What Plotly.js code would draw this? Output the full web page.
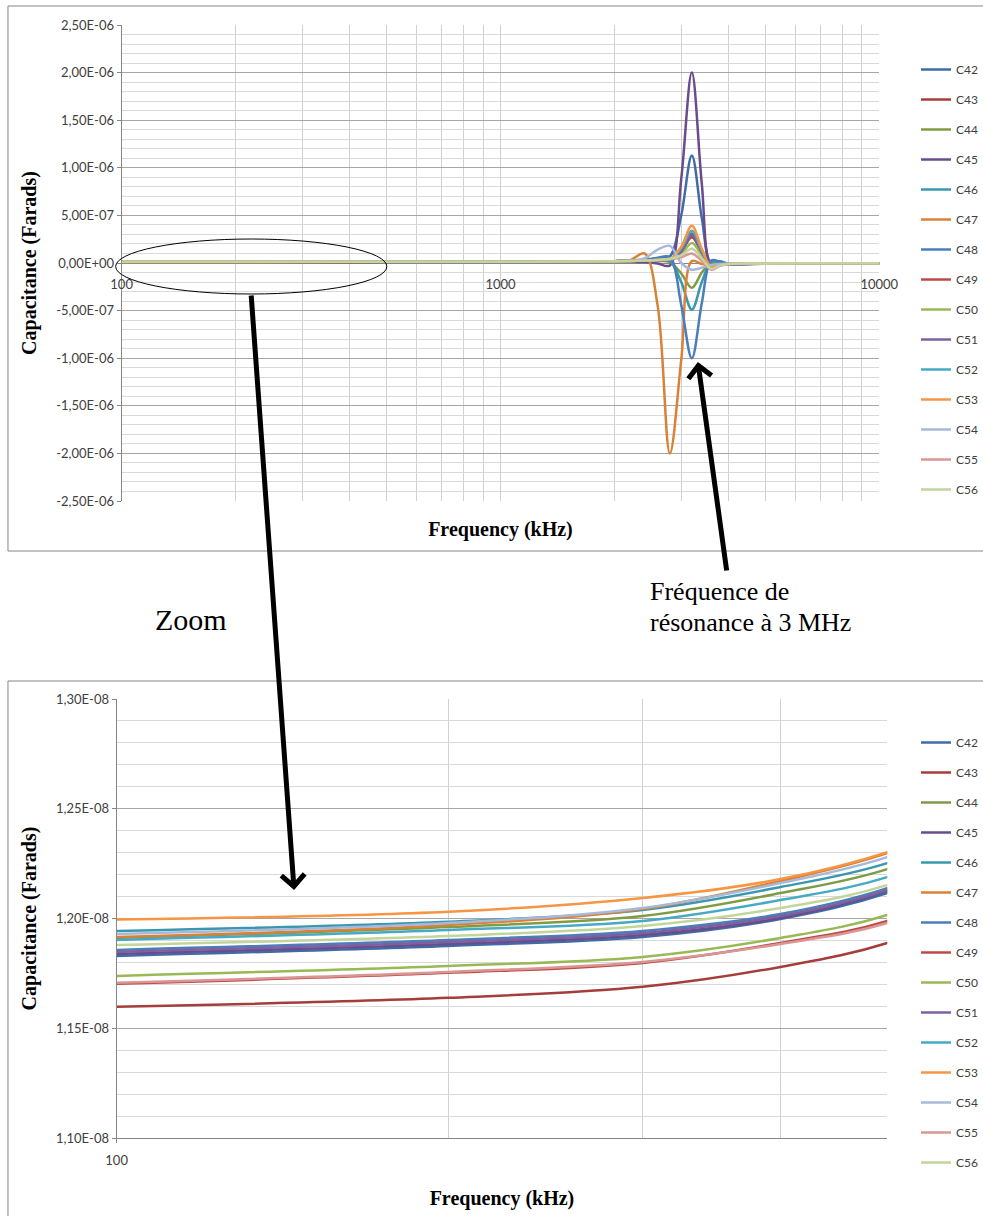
<!DOCTYPE html>
<html>
<head>
<meta charset="utf-8">
<script src="https://cdn.plot.ly/plotly-3.0.1.min.js"></script>
<style>html,body{margin:0;padding:0;background:#fff;}#chart{width:983px;height:1216px;}</style>
</head>
<body>
<div id="chart"></div>
<script>
// Frequencies (kHz)
const freq = [100, 200, 300, 400, 500, 700, 1000, 1500, 2000, 2200, 2400, 2600, 2800, 3000, 3200, 3400, 3600, 3800, 4000, 5000, 7000, 10000];

// Series names
const seriesNames = ['C42','C43','C44','C45','C46','C47','C48','C49','C50','C51','C52','C53','C54','C55','C56'];

// Capacitance values (Farads)
const C42 = [1.18295e-8, 1.1875e-8, 1.19159e-8, 1.19977e-8, 1.21159e-8, 1.242e-8, 1.312e-8, 1.51e-8, 1.93e-8, 2.2e-8, 3.0e-8, 5.0e-8, 7.0e-8, 5.0e-7, 1.13e-6, 4.7e-7, -1.0e-8, 1.5e-8, -1.0e-8, -8e-9, -5e-9, -3e-9];
const C43 = [1.15977e-8, 1.16386e-8, 1.16886e-8, 1.17795e-8, 1.18886e-8, 1.219e-8, 1.289e-8, 1.49e-8, 1.91e-8, 2.2e-8, 2.6e-8, 3.2e-8, 4.0e-8, 1.2e-7, 2.7e-7, 1.1e-7, -3.0e-8, -1.5e-8, -1.0e-8, -6e-9, -3e-9, -2e-9];
const C44 = [1.19114e-8, 1.19614e-8, 1.20114e-8, 1.21159e-8, 1.2225e-8, 1.253e-8, 1.323e-8, 1.52e-8, 1.94e-8, 2.2e-8, 2.5e-8, 2.0e-8, 1.0e-8, -1.1e-7, -2.6e-7, -1.0e-7, 1.0e-8, 5e-9, -5e-9, -6e-9, -4e-9, -2e-9];
const C45 = [1.18386e-8, 1.18841e-8, 1.1925e-8, 1.20023e-8, 1.2125e-8, 1.243e-8, 1.313e-8, 1.51e-8, 1.93e-8, 1.5e-8, 1.0e-8, -5e-9, -2.5e-8, 8.8e-7, 2.0e-6, 8.3e-7, -3.0e-8, -1.0e-8, -1.0e-8, -8e-9, -5e-9, -3e-9];
const C46 = [1.19432e-8, 1.19855e-8, 1.20386e-8, 1.21432e-8, 1.22523e-8, 1.255e-8, 1.325e-8, 1.53e-8, 1.95e-8, 2.2e-8, 2.6e-8, 2.5e-8, 2.0e-8, -2.0e-7, -4.9e-7, -2.0e-7, 1.5e-8, 5e-9, -5e-9, -6e-9, -4e-9, -2e-9];
const C47 = [1.19159e-8, 1.19705e-8, 1.20432e-8, 1.21705e-8, 1.22977e-8, 1.26e-8, 1.33e-8, 1.53e-8, 1.95e-8, 3.0e-8, 1.0e-7, -4.5e-7, -2.0e-6, -1.02e-6, 2.0e-8, -1.0e-8, -2.0e-8, -1.0e-8, -8e-9, -6e-9, -4e-9, -2e-9];
const C48 = [1.18568e-8, 1.19023e-8, 1.19432e-8, 1.20205e-8, 1.21386e-8, 1.244e-8, 1.314e-8, 1.51e-8, 1.93e-8, 2.2e-8, 3.0e-8, 5.5e-8, 6.0e-8, -4.4e-7, -1.0e-6, -4.2e-7, 2.5e-8, 1.5e-8, -5e-9, -6e-9, -4e-9, -2e-9];
const C49 = [1.17023e-8, 1.17523e-8, 1.17977e-8, 1.18886e-8, 1.19886e-8, 1.229e-8, 1.299e-8, 1.50e-8, 1.92e-8, 2.2e-8, 2.6e-8, 3.2e-8, 4.0e-8, 1.3e-7, 3.1e-7, 1.2e-7, -4.0e-8, -1.5e-8, -1.0e-8, -6e-9, -3e-9, -2e-9];
const C50 = [1.17386e-8, 1.17841e-8, 1.1825e-8, 1.19114e-8, 1.20159e-8, 1.232e-8, 1.302e-8, 1.50e-8, 1.92e-8, 2.2e-8, 2.6e-8, 3.2e-8, 4.0e-8, 9.0e-8, 2.1e-7, 8.0e-8, -5.0e-8, -2.0e-8, -1.0e-8, -6e-9, -3e-9, -2e-9];
const C51 = [1.18477e-8, 1.18932e-8, 1.19341e-8, 1.20114e-8, 1.21295e-8, 1.243e-8, 1.313e-8, 1.51e-8, 1.93e-8, 2.2e-8, 2.6e-8, 3.2e-8, 4.0e-8, 1.2e-7, 2.9e-7, 1.1e-7, -4.0e-8, -1.5e-8, -1.0e-8, -6e-9, -3e-9, -2e-9];
const C52 = [1.19023e-8, 1.19477e-8, 1.19886e-8, 1.20841e-8, 1.21886e-8, 1.249e-8, 1.319e-8, 1.52e-8, 1.94e-8, 2.2e-8, 2.6e-8, 3.2e-8, 4.0e-8, 1.5e-7, 3.4e-7, 1.3e-7, -4.0e-8, -1.5e-8, -1.0e-8, -6e-9, -3e-9, -2e-9];
const C53 = [1.19955e-8, 1.20309e-8, 1.20932e-8, 1.21795e-8, 1.23022e-8, 1.26e-8, 1.33e-8, 1.53e-8, 1.95e-8, 2.2e-8, 2.6e-8, 3.2e-8, 4.0e-8, 1.7e-7, 3.9e-7, 1.5e-7, -4.0e-8, -2.0e-8, -1.0e-8, -6e-9, -3e-9, -2e-9];
const C54 = [1.19295e-8, 1.19795e-8, 1.20477e-8, 1.21614e-8, 1.22795e-8, 1.258e-8, 1.328e-8, 1.53e-8, 1.95e-8, 2.5e-8, 5.0e-8, 1.4e-7, 1.8e-7, 0.0, -7.0e-8, -5.0e-8, -2.0e-8, -1.0e-8, -8e-9, -6e-9, -3e-9, -2e-9];
const C55 = [1.17068e-8, 1.17568e-8, 1.18023e-8, 1.18841e-8, 1.19795e-8, 1.228e-8, 1.298e-8, 1.50e-8, 1.92e-8, 2.2e-8, 2.6e-8, 3.2e-8, 4.0e-8, 6.0e-8, 1.0e-7, 2.0e-8, -7.0e-8, -3.0e-8, -1.0e-8, -6e-9, -3e-9, -2e-9];
const C56 = [1.18795e-8, 1.19205e-8, 1.19659e-8, 1.20477e-8, 1.21523e-8, 1.245e-8, 1.315e-8, 1.52e-8, 1.94e-8, 2.2e-8, 2.6e-8, 3.2e-8, 4.5e-8, 8.0e-8, 1.5e-7, 5.0e-8, -6.0e-8, -2.5e-8, -1.0e-8, -6e-9, -3e-9, -2e-9];

const seriesValues = [C42, C43, C44, C45, C46, C47, C48, C49, C50, C51, C52, C53, C54, C55, C56];

// Tick labels
const topYTickVals = [-2.5e-6, -2e-6, -1.5e-6, -1e-6, -5e-7, 0, 5e-7, 1e-6, 1.5e-6, 2e-6, 2.5e-6];
const topYTickText = ['-2,50E-06','-2,00E-06','-1,50E-06','-1,00E-06','-5,00E-07','0,00E+00','5,00E-07','1,00E-06','1,50E-06','2,00E-06','2,50E-06'];
const botYTickVals = [1.10e-8, 1.15e-8, 1.20e-8, 1.25e-8, 1.30e-8];
const botYTickText = ['1,10E-08','1,15E-08','1,20E-08','1,25E-08','1,30E-08'];

// Styles
const seriesColors = ['#3E6CA8','#A53E3B','#7F9C45','#684C8B','#3A98AE','#DB8137','#4A7EBB','#BE4B48','#98B954','#7D60A0','#46AAC5','#F69544','#A7B9DA','#DA9694','#C2D59B'];

const W = 983, H = 1216;
const px = v => v / W;
const py = v => (H - v) / H;

const traces = [];
seriesNames.forEach((n, i) => {
  traces.push({
    x: freq, y: seriesValues[i], name: n, type: 'scatter', mode: 'lines',
    line: {color: seriesColors[i], width: 2.5, shape: 'spline', smoothing: 1},
    xaxis: 'x', yaxis: 'y', legend: 'legend', legendgroup: n + '_t', hoverinfo: 'skip'
  });
  traces.push({
    x: freq, y: seriesValues[i], name: n, type: 'scatter', mode: 'lines',
    line: {color: seriesColors[i], width: 2.5, shape: 'spline', smoothing: 1},
    xaxis: 'x2', yaxis: 'y2', legend: 'legend2', legendgroup: n + '_b', hoverinfo: 'skip'
  });
});
// carrier (invisible) so that the tick-label axis crossing at zero is drawn
traces.push({
  x: freq, y: seriesValues[0], type: 'scatter', mode: 'lines', opacity: 0,
  line: {width: 0}, xaxis: 'x3', yaxis: 'y', showlegend: false, hoverinfo: 'skip'
});

const tickFont = {family: 'Lato, "Liberation Sans", sans-serif', size: 13, color: '#404040'};
const titleFont = {family: '"Liberation Serif", "Times New Roman", serif', size: 20, color: '#000', weight: 'bold'};
const majorGrid = '#A6A6A6';
const minorGrid = '#D9D9D9';
const vGrid = '#D0D0D0';

const layout = {
  width: W, height: H,
  margin: {l: 0, r: 0, t: 0, b: 0},
  paper_bgcolor: '#fff', plot_bgcolor: 'rgba(0,0,0,0)',
  showlegend: true,
  font: tickFont,
  xaxis: {
    type: 'log', range: [2, 4], domain: [px(122), px(882)], anchor: 'y',
    showticklabels: false, ticks: '', dtick: 1,
    showgrid: true, gridcolor: vGrid,
    minor: {dtick: 'D1', showgrid: true, gridcolor: vGrid, ticks: ''},
    showline: false, zeroline: false, automargin: false,
    title: {text: 'Frequency (kHz)', font: titleFont, standoff: 20}
  },
  xaxis3: {
    type: 'log', range: [2, 4], overlaying: 'x', anchor: 'free', position: py(263),
    dtick: 1, tickformat: 'd', showgrid: false, ticks: '', showline: false, zeroline: false,
    tickfont: tickFont, ticklabelstandoff: 12, automargin: false
  },
  yaxis: {
    range: [-2.5e-6, 2.5e-6], domain: [py(501), py(25)], anchor: 'x',
    tickmode: 'array', tickvals: topYTickVals, ticktext: topYTickText,
    ticks: 'outside', ticklen: 4, tickcolor: '#868686',
    showline: true, linecolor: '#868686',
    showgrid: true, gridcolor: majorGrid,
    minor: {dtick: 1e-7, tick0: 0, showgrid: true, gridcolor: minorGrid, ticks: ''},
    zeroline: true, zerolinecolor: '#868686', zerolinewidth: 1,
    tickfont: tickFont, automargin: false,
    title: {text: 'Capacitance (Farads)', font: titleFont, standoff: 14}
  },
  xaxis2: {
    type: 'log', range: [2, 2.699], domain: [px(117), px(890)], anchor: 'y2',
    dtick: 1, tickformat: 'd', ticks: 'outside', ticklen: 4, tickcolor: '#868686',
    showline: true, linecolor: '#868686',
    showgrid: true, gridcolor: vGrid,
    minor: {dtick: 'D1', showgrid: true, gridcolor: vGrid, ticks: ''},
    zeroline: false, tickfont: tickFont, automargin: false, ticklabelstandoff: 6,
    title: {text: 'Frequency (kHz)', font: titleFont, standoff: 24}
  },
  yaxis2: {
    range: [1.1e-8, 1.3e-8], domain: [py(1138), py(699)], anchor: 'x2',
    tickmode: 'array', tickvals: botYTickVals, ticktext: botYTickText,
    ticks: 'outside', ticklen: 4, tickcolor: '#868686',
    showline: true, linecolor: '#868686',
    showgrid: true, gridcolor: majorGrid,
    minor: {dtick: 1e-10, tick0: 0, showgrid: true, gridcolor: minorGrid, ticks: ''},
    zeroline: false, tickfont: tickFont, automargin: false,
    title: {text: 'Capacitance (Farads)', font: titleFont, standoff: 14}
  },
  legend: {
    x: px(919), y: py(55), xanchor: 'left', yanchor: 'top',
    font: {family: tickFont.family, size: 12, color: '#404040'},
    tracegroupgap: 11, bgcolor: 'rgba(0,0,0,0)', itemwidth: 30
  },
  legend2: {
    x: px(919), y: py(728), xanchor: 'left', yanchor: 'top',
    font: {family: tickFont.family, size: 12, color: '#404040'},
    tracegroupgap: 11, bgcolor: 'rgba(0,0,0,0)', itemwidth: 30
  },
  shapes: [
    {type: 'rect', xref: 'paper', yref: 'paper', x0: px(8), x1: 1.05, y0: py(551), y1: py(6),
     line: {color: '#868686', width: 1}, fillcolor: 'rgba(0,0,0,0)', layer: 'above'},
    {type: 'rect', xref: 'paper', yref: 'paper', x0: px(8), x1: 1.05, y0: -0.05, y1: py(681),
     line: {color: '#868686', width: 1}, fillcolor: 'rgba(0,0,0,0)', layer: 'above'},
    {type: 'circle', xref: 'paper', yref: 'paper', x0: px(116), x1: px(388), y0: py(294), y1: py(239),
     line: {color: '#000', width: 1}, fillcolor: 'rgba(0,0,0,0)', layer: 'above'}
  ],
  annotations: [
    {xref: 'paper', yref: 'paper', x: px(295), y: py(890), ax: -43, ay: -596, text: '',
     showarrow: true, arrowhead: 4, arrowsize: 0.9, arrowwidth: 5, arrowcolor: '#000', standoff: 0},
    {xref: 'paper', yref: 'paper', x: px(700), y: py(362), ax: 29, ay: 210, text: '',
     showarrow: true, arrowhead: 4, arrowsize: 0.9, arrowwidth: 5, arrowcolor: '#000', standoff: 0},
    {xref: 'paper', yref: 'paper', x: px(192), y: py(619), text: 'Zoom', showarrow: false,
     xanchor: 'center', yanchor: 'middle', font: {family: '"Liberation Serif", serif', size: 30, color: '#000'}},
    {xref: 'paper', yref: 'paper', x: px(650), y: py(591), text: 'Fréquence de', showarrow: false,
     xanchor: 'left', yanchor: 'middle', font: {family: '"Liberation Serif", serif', size: 26, color: '#000'}},
    {xref: 'paper', yref: 'paper', x: px(650), y: py(622), text: 'résonance à 3 MHz', showarrow: false,
     xanchor: 'left', yanchor: 'middle', font: {family: '"Liberation Serif", serif', size: 26, color: '#000'}}
  ]
};

Plotly.newPlot('chart', traces, layout, {staticPlot: true, displayModeBar: false});
</script>
</body>
</html>
